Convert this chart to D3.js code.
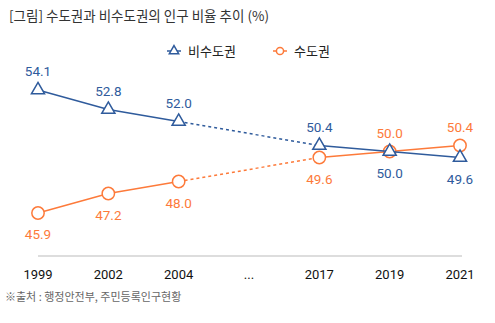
<!DOCTYPE html>
<html>
<head>
<meta charset="utf-8">
<script src="https://cdn.jsdelivr.net/npm/d3@7"></script>
<style>
  body { margin: 0; background: #fff; }
  svg { display: block; font-family: Roboto, "Noto Sans CJK KR", sans-serif; }
</style>
</head>
<body>
<div id="chart"></div>
<script>
// data
var years = ["1999", "2002", "2004", "...", "2017", "2019", "2021"];
var nonCapital = [54.1, 52.8, 52.0, null, 50.4, 50.0, 49.6]; // 비수도권
var capital = [45.9, 47.2, 48.0, null, 49.6, 50.0, 50.4];    // 수도권
// label above (true) or below (false) the point
var nonCapitalAbove = [true, true, true, null, true, false, false];
var capitalAbove = [false, false, false, null, false, true, true];

var width = 495, height = 323;
var blue = "#2f5b9c", orange = "#fd7a3a";

var svg = d3.select("#chart")
  .append("svg")
  .attr("width", width)
  .attr("height", height);

var x = d3.scalePoint().domain(years).range([38, 460]);
var y = d3.scaleLinear().domain([45.9, 54.1]).range([213, 90]);

// title
svg.append("text")
  .attr("x", 9).attr("y", 21)
  .attr("font-size", 13.5)
  .attr("fill", "#333")
  .attr("font-family", "'Noto Sans CJK KR', sans-serif")
  .text("[그림] 수도권과 비수도권의 인구 비율 추이 (%)");

// legend
var legend = [
  { name: "비수도권", color: blue, shape: d3.symbolTriangle, x: 174 },
  { name: "수도권", color: orange, shape: d3.symbolCircle, x: 280 }
];
var lg = svg.append("g").selectAll("g").data(legend).join("g")
  .attr("transform", (d) => "translate(" + d.x + ",51)");
lg.append("line")
  .attr("x1", -7).attr("x2", 7)
  .attr("stroke", (d) => d.color).attr("stroke-width", 1.5);
lg.append("path")
  .attr("d", (d) => d3.symbol().type(d.shape).size(d.shape === d3.symbolCircle ? 40 : 38)())
  .attr("fill", "#fff").attr("stroke", (d) => d.color).attr("stroke-width", 1.5);
lg.append("text")
  .attr("x", 14).attr("y", 5)
  .attr("font-size", 13)
  .attr("fill", "#222")
  .attr("font-family", "'Noto Sans CJK KR', sans-serif")
  .text((d) => d.name);

// axis line
svg.append("line")
  .attr("x1", 38).attr("x2", 462)
  .attr("y1", 256).attr("y2", 256)
  .attr("stroke", "#bbb").attr("stroke-width", 1);

// tick labels
svg.append("g").selectAll("text").data(years).join("text")
  .attr("x", (d) => x(d)).attr("y", 279)
  .attr("text-anchor", "middle")
  .attr("font-size", 13)
  .attr("fill", "#111")
  .text((d) => d);

// footer
svg.append("text")
  .attr("x", 5).attr("y", 301)
  .attr("font-size", 11)
  .attr("fill", "#666")
  .attr("font-family", "'Noto Sans CJK KR', sans-serif")
  .text("※출처 : 행정안전부, 주민등록인구현황");

function drawSeries(values, above, color, shape) {
  var pts = years.map((d, i) => ({ year: d, v: values[i], up: above[i] }))
    .filter((d) => d.v !== null);
  var line = d3.line().x((d) => x(d.year)).y((d) => y(d.v));
  var g = svg.append("g");
  // solid parts
  g.append("path").datum(pts.slice(0, 3)).attr("d", line)
    .attr("fill", "none").attr("stroke", color).attr("stroke-width", 1.5);
  g.append("path").datum(pts.slice(3)).attr("d", line)
    .attr("fill", "none").attr("stroke", color).attr("stroke-width", 1.5);
  // dashed bridge over the gap
  g.append("path").datum(pts.slice(2, 4)).attr("d", line)
    .attr("fill", "none").attr("stroke", color).attr("stroke-width", 1.5)
    .attr("stroke-dasharray", "3,3");
  g.selectAll(".m").data(pts).join("path")
    .attr("transform", (d) => "translate(" + x(d.year) + "," + y(d.v) + ")")
    .attr("d", d3.symbol().type(shape).size(shape === d3.symbolCircle ? 120 : 75)())
    .attr("fill", "#fff").attr("stroke", color).attr("stroke-width", 1.5);
  g.selectAll(".lbl").data(pts).join("text")
    .attr("x", (d) => x(d.year))
    .attr("y", (d) => y(d.v) + (d.up ? -14 : 26))
    .attr("text-anchor", "middle")
    .attr("font-size", 13.5)
    .attr("fill", color)
    .text((d) => d.v.toFixed(1));
}

drawSeries(capital, capitalAbove, orange, d3.symbolCircle);
drawSeries(nonCapital, nonCapitalAbove, blue, d3.symbolTriangle);
</script>
</body>
</html>
